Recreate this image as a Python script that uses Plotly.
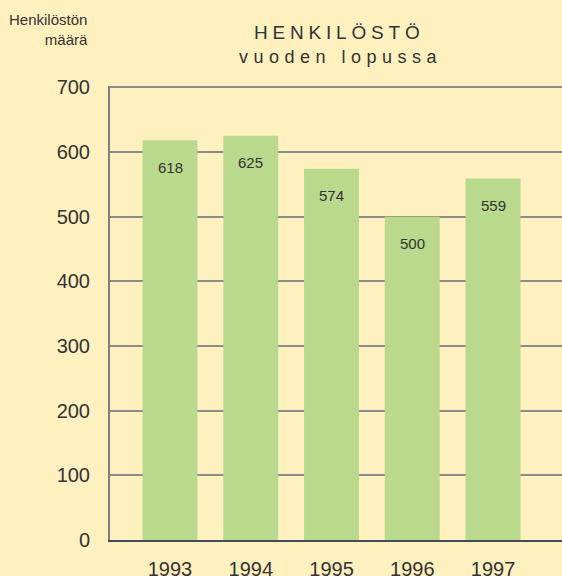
import plotly.graph_objects as go

years = [1993, 1994, 1995, 1996, 1997]
staff = [618, 625, 574, 500, 559]
value_labels = ["618", "625", "574", "500", "559"]
y_ticks = [0, 100, 200, 300, 400, 500, 600, 700]

bg = "#FEF0BF"
green = "#B9D98C"
txt = "#333333"
font_fam = "Liberation Sans, Arial, Helvetica, sans-serif"

fig = go.Figure()
fig.add_trace(go.Bar(
    x=years, y=staff, width=0.68,
    marker=dict(color=green, line=dict(width=0)),
    hoverinfo="skip",
))

value_annots = [
    dict(text=lab, x=yr, y=val, xref="x", yref="y", yshift=-27,
         xanchor="center", yanchor="middle", showarrow=False,
         font=dict(size=15, color=txt, family=font_fam))
    for yr, val, lab in zip(years, staff, value_labels)
]

fig.update_layout(
    width=562, height=576,
    margin=dict(l=110, r=0, t=86, b=36),
    paper_bgcolor=bg, plot_bgcolor=bg,
    showlegend=False,
    font=dict(family=font_fam, color=txt),
    xaxis=dict(
        range=[1992.257, 1997.854],
        tickvals=years, ticktext=[str(y) for y in years],
        tickfont=dict(size=20, color=txt),
        ticks="outside", ticklen=10, tickcolor="rgba(0,0,0,0)",
        showgrid=False, zeroline=False,
        showline=True, linecolor="#3D4B5C", linewidth=1.5,
        automargin=False,
    ),
    yaxis=dict(
        range=[0, 702],
        tickvals=y_ticks,
        tickfont=dict(size=20, color=txt),
        ticks="outside", ticklen=14, tickcolor="rgba(0,0,0,0)",
        showgrid=True, gridcolor="#8C8C84", gridwidth=1.5,
        zeroline=False,
        showline=True, linecolor="#808078", linewidth=2,
        automargin=False,
    ),
    annotations=value_annots + [
        dict(text="Henkilöstön<br>määrä", xref="paper", yref="paper",
             x=-0.045, y=1.0, yshift=77, xanchor="right", yanchor="top", align="right",
             showarrow=False, font=dict(size=15, color=txt, family=font_fam)),
        dict(text='<span style="letter-spacing:4.8px">HENKILÖSTÖ</span>', xref="paper", yref="paper",
             x=0.507, y=1.0, yshift=54, xanchor="center", yanchor="middle",
             showarrow=False, font=dict(size=19, color=txt, family=font_fam)),
        dict(text='<span style="letter-spacing:5.5px">vuoden lopussa</span>', xref="paper", yref="paper",
             x=0.509, y=1.0, yshift=29, xanchor="center", yanchor="middle",
             showarrow=False, font=dict(size=18, color=txt, family=font_fam)),
    ],
)

fig.write_html("out.html", config={"displayModeBar": False},
               post_script="document.body.style.margin='0';document.body.style.overflow='hidden';")
